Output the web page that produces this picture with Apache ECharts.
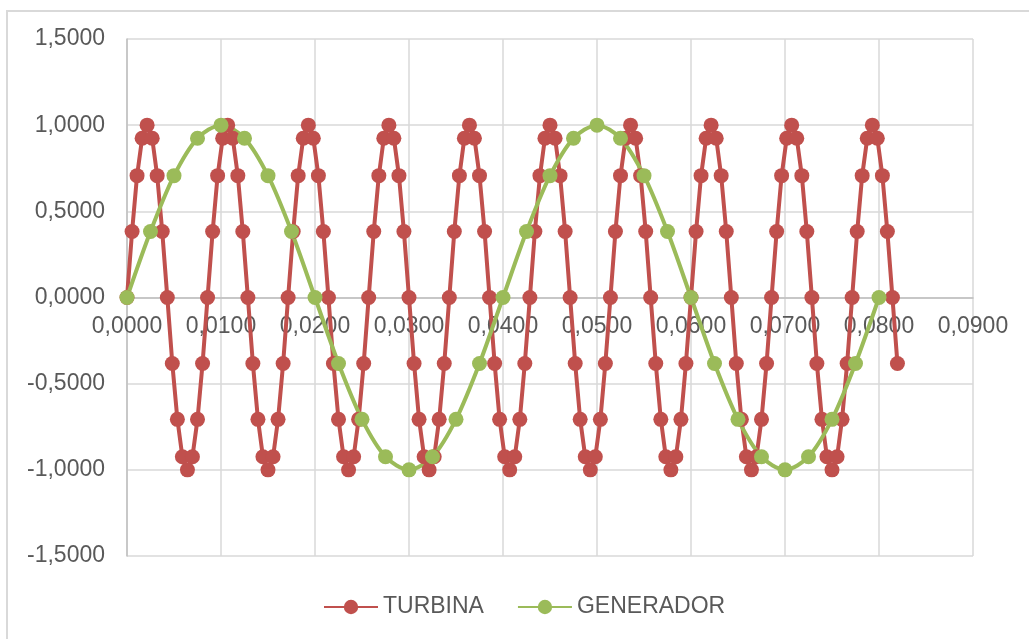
<!DOCTYPE html>
<html>
<head>
<meta charset="utf-8">
<script src="https://cdn.jsdelivr.net/npm/echarts@6/dist/echarts.min.js"></script>
<style>
html,body{margin:0;padding:0;width:1029px;height:639px;overflow:hidden;background:#fff;}
#frame{position:absolute;left:6px;top:10px;width:1200px;height:800px;border:2px solid #d9d9d9;}
#chart{position:absolute;left:0;top:0;width:1029px;height:639px;}
</style>
</head>
<body>
<div id="frame"></div>
<div id="chart"></div>
<script>
// X tick labels: 0,0000 ... 0,0900 ; Y tick labels: -1,5000 ... 1,5000
const xTicks = [0, 0.01, 0.02, 0.03, 0.04, 0.05, 0.06, 0.07, 0.08, 0.09];
const yTicks = [-1.5, -1.0, -0.5, 0, 0.5, 1.0, 1.5];

const seriesNames = ['TURBINA', 'GENERADOR'];

// TURBINA time samples (s)
const turbinaX = [
  0, 0.00054, 0.00107, 0.00161, 0.00214, 0.00268, 0.00321, 0.00375, 0.00429, 0.00482, 0.00536, 0.00589, 0.00643, 0.00696,
  0.0075, 0.00804, 0.00857, 0.00911, 0.00964, 0.01018, 0.01071, 0.01125, 0.01179, 0.01232, 0.01286, 0.01339, 0.01393, 0.01446,
  0.015, 0.01554, 0.01607, 0.01661, 0.01714, 0.01768, 0.01821, 0.01875, 0.01929, 0.01982, 0.02036, 0.02089, 0.02143, 0.02196,
  0.0225, 0.02304, 0.02357, 0.02411, 0.02464, 0.02518, 0.02571, 0.02625, 0.02679, 0.02732, 0.02786, 0.02839, 0.02893, 0.02946,
  0.03, 0.03054, 0.03107, 0.03161, 0.03214, 0.03268, 0.03321, 0.03375, 0.03429, 0.03482, 0.03536, 0.03589, 0.03643, 0.03696,
  0.0375, 0.03804, 0.03857, 0.03911, 0.03964, 0.04018, 0.04071, 0.04125, 0.04179, 0.04232, 0.04286, 0.04339, 0.04393, 0.04446,
  0.045, 0.04554, 0.04607, 0.04661, 0.04714, 0.04768, 0.04821, 0.04875, 0.04929, 0.04982, 0.05036, 0.05089, 0.05143, 0.05196,
  0.0525, 0.05304, 0.05357, 0.05411, 0.05464, 0.05518, 0.05571, 0.05625, 0.05679, 0.05732, 0.05786, 0.05839, 0.05893, 0.05946,
  0.06, 0.06054, 0.06107, 0.06161, 0.06214, 0.06268, 0.06321, 0.06375, 0.06429, 0.06482, 0.06536, 0.06589, 0.06643, 0.06696,
  0.0675, 0.06804, 0.06857, 0.06911, 0.06964, 0.07018, 0.07071, 0.07125, 0.07179, 0.07232, 0.07286, 0.07339, 0.07393, 0.07446,
  0.075, 0.07554, 0.07607, 0.07661, 0.07714, 0.07768, 0.07821, 0.07875, 0.07929, 0.07982, 0.08036, 0.08089, 0.08143, 0.08196
];
// TURBINA values
const turbinaY = [
  0, 0.3827, 0.7071, 0.9239, 1, 0.9239, 0.7071, 0.3827, 0, -0.3827, -0.7071, -0.9239, -1, -0.9239, -0.7071, -0.3827,
  0, 0.3827, 0.7071, 0.9239, 1, 0.9239, 0.7071, 0.3827, 0, -0.3827, -0.7071, -0.9239, -1, -0.9239, -0.7071, -0.3827,
  0, 0.3827, 0.7071, 0.9239, 1, 0.9239, 0.7071, 0.3827, 0, -0.3827, -0.7071, -0.9239, -1, -0.9239, -0.7071, -0.3827,
  0, 0.3827, 0.7071, 0.9239, 1, 0.9239, 0.7071, 0.3827, 0, -0.3827, -0.7071, -0.9239, -1, -0.9239, -0.7071, -0.3827,
  0, 0.3827, 0.7071, 0.9239, 1, 0.9239, 0.7071, 0.3827, 0, -0.3827, -0.7071, -0.9239, -1, -0.9239, -0.7071, -0.3827,
  0, 0.3827, 0.7071, 0.9239, 1, 0.9239, 0.7071, 0.3827, 0, -0.3827, -0.7071, -0.9239, -1, -0.9239, -0.7071, -0.3827,
  0, 0.3827, 0.7071, 0.9239, 1, 0.9239, 0.7071, 0.3827, 0, -0.3827, -0.7071, -0.9239, -1, -0.9239, -0.7071, -0.3827,
  0, 0.3827, 0.7071, 0.9239, 1, 0.9239, 0.7071, 0.3827, 0, -0.3827, -0.7071, -0.9239, -1, -0.9239, -0.7071, -0.3827,
  0, 0.3827, 0.7071, 0.9239, 1, 0.9239, 0.7071, 0.3827, 0, -0.3827, -0.7071, -0.9239, -1, -0.9239, -0.7071, -0.3827,
  0, 0.3827, 0.7071, 0.9239, 1, 0.9239, 0.7071, 0.3827, 0, -0.3827
];

// GENERADOR time samples (s)
const generadorX = [
  0, 0.0025, 0.005, 0.0075, 0.01, 0.0125, 0.015, 0.0175, 0.02, 0.0225, 0.025, 0.0275, 0.03, 0.0325, 0.035, 0.0375,
  0.04, 0.0425, 0.045, 0.0475, 0.05, 0.0525, 0.055, 0.0575, 0.06, 0.0625, 0.065, 0.0675, 0.07, 0.0725, 0.075, 0.0775, 0.08
];
// GENERADOR values
const generadorY = [
  0, 0.3827, 0.7071, 0.9239, 1, 0.9239, 0.7071, 0.3827, 0, -0.3827, -0.7071, -0.9239, -1, -0.9239, -0.7071, -0.3827,
  0, 0.3827, 0.7071, 0.9239, 1, 0.9239, 0.7071, 0.3827, 0, -0.3827, -0.7071, -0.9239, -1, -0.9239, -0.7071, -0.3827, 0
];

const FONT = '"Liberation Sans", Arial, sans-serif';
const fmt = v => Number(v).toFixed(4).replace('.', ',');
const pairs = (xs, ys) => xs.map((x, i) => [x, ys[i]]);

const GRID_TOP = 39, GRID_BOTTOM = 83, H = 639;
// shift the x axis from the bottom of the grid up to the y = 0 line
const yMin = yTicks[0], yMax = yTicks[yTicks.length - 1];
const gridH = H - GRID_TOP - GRID_BOTTOM;
const zeroOffset = -gridH * (0 - yMin) / (yMax - yMin);

const chart = echarts.init(document.getElementById('chart'), null, {renderer: 'canvas'});
chart.setOption({
  animation: false,
  backgroundColor: 'transparent',
  textStyle: {fontFamily: FONT},
  grid: {left: 127, right: 56, top: GRID_TOP, bottom: GRID_BOTTOM, containLabel: false},
  legend: {
    data: seriesNames,
    left: 323,
    top: 594,
    padding: 0,
    itemWidth: 54,
    itemHeight: 18,
    itemGap: 33,
    textStyle: {fontFamily: FONT, fontSize: 23, color: '#595959', lineHeight: 26}
  },
  xAxis: {
    type: 'value',
    position: 'bottom',
    offset: zeroOffset,
    min: xTicks[0],
    max: xTicks[xTicks.length - 1],
    interval: xTicks[1] - xTicks[0],
    axisLine: {show: true, onZero: false, lineStyle: {color: '#bfbfbf', width: 1.5}},
    axisTick: {show: false},
    axisLabel: {formatter: fmt, fontFamily: FONT, fontSize: 23, color: '#595959', margin: 18},
    splitLine: {show: true, lineStyle: {color: '#d9d9d9', width: 1.5}}
  },
  yAxis: {
    type: 'value',
    min: yMin,
    max: yMax,
    interval: yTicks[1] - yTicks[0],
    axisLine: {show: true, onZero: false, lineStyle: {color: '#bfbfbf', width: 1.5}},
    axisTick: {show: false},
    axisLabel: {formatter: fmt, fontFamily: FONT, fontSize: 23, color: '#595959', margin: 22},
    splitLine: {show: true, lineStyle: {color: '#d9d9d9', width: 1.5}}
  },
  series: [
    {
      name: seriesNames[0],
      type: 'line',
      data: pairs(turbinaX, turbinaY),
      symbol: 'circle',
      symbolSize: 15,
      showAllSymbol: true,
      itemStyle: {color: '#C0504D'},
      lineStyle: {color: '#C0504D', width: 4},
      smooth: false
    },
    {
      name: seriesNames[1],
      type: 'line',
      data: pairs(generadorX, generadorY),
      symbol: 'circle',
      symbolSize: 15,
      showAllSymbol: true,
      itemStyle: {color: '#9BBB59'},
      lineStyle: {color: '#9BBB59', width: 4},
      smooth: 0.3
    }
  ]
});
</script>
</body>
</html>
